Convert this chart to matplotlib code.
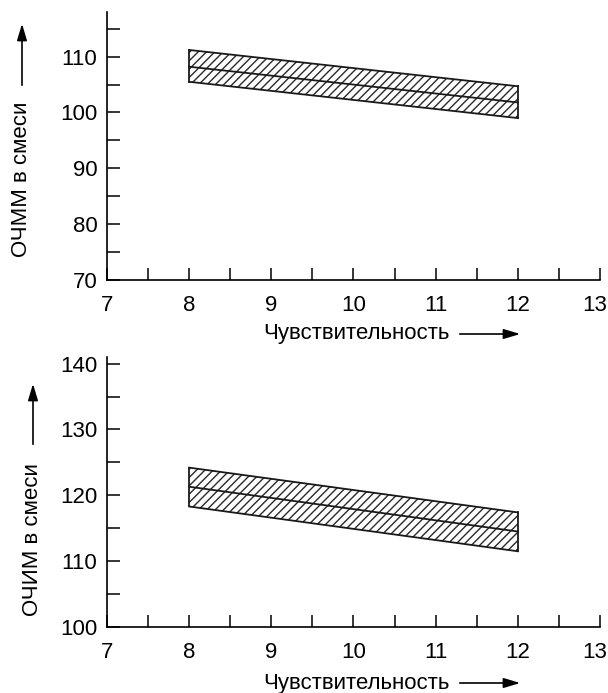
import numpy as np
import matplotlib.pyplot as plt
from matplotlib.ticker import MultipleLocator, FuncFormatter

plt.rcParams['font.family'] = ['Liberation Sans', 'DejaVu Sans']
plt.rcParams['hatch.linewidth'] = 1.0

# ── data ──────────────────────────────────────────────────────────────────────
x_ends = [8, 12]
# top panel: ОЧММ
ochmm_upper = [111.2, 104.7]
ochmm_mid = [108.2, 101.8]
ochmm_lower = [105.5, 99.0]
# bottom panel: ОЧИМ
ochim_upper = [124.2, 117.4]
ochim_mid = [121.3, 114.5]
ochim_lower = [118.3, 111.5]

xlabel = 'Чувствительность'
W, H = 608, 693
FS = 16
XMIN, XMAX = 7, 13
fig = plt.figure(figsize=(W / 100, H / 100), dpi=100)


def px_axes(left, top, right, bottom):
    return fig.add_axes([left / W, 1 - bottom / H, (right - left) / W, (bottom - top) / H])


def style(ax, ylim, ymaj, ymin):
    ax.set_xlim(XMIN, XMAX)
    ax.set_ylim(*ylim)
    ax.xaxis.set_major_locator(MultipleLocator(1))
    ax.xaxis.set_minor_locator(MultipleLocator(0.5))
    ax.yaxis.set_major_locator(MultipleLocator(ymaj))
    ax.yaxis.set_minor_locator(MultipleLocator(ymin))
    # the last x label is drawn by hand, nudged left so it stays in the picture
    ax.xaxis.set_major_formatter(FuncFormatter(
        lambda v, p: '' if abs(v - XMAX) < 1e-6 else f'{v:.0f}'))
    ax.annotate(f'{XMAX}', xy=(XMAX, ylim[0]), xytext=(-4, -11),
                textcoords='offset points', ha='center', va='top', fontsize=FS,
                annotation_clip=False)
    for s in ['top', 'right']:
        ax.spines[s].set_visible(False)
    for s in ['left', 'bottom']:
        ax.spines[s].set_linewidth(1.2)
    ax.tick_params(which='both', direction='in', length=9, width=1.1, labelsize=FS)
    ax.tick_params(axis='x', which='major', pad=11)
    ax.tick_params(axis='y', which='major', pad=7)


def band(ax, up, mid, lo):
    ax.fill_between(x_ends, lo, up, facecolor='white', edgecolor='#2a2a2a',
                    hatch='////', linewidth=0)
    for ys in (up, mid, lo):
        ax.plot(x_ends, ys, color='#1a1a1a', lw=1.3)
    ax.plot([x_ends[0]] * 2, [lo[0], up[0]], color='#1a1a1a', lw=1.3)
    ax.plot([x_ends[1]] * 2, [lo[1], up[1]], color='#1a1a1a', lw=1.3)


ax1 = px_axes(107, 12, 600, 280)
band(ax1, ochmm_upper, ochmm_mid, ochmm_lower)
style(ax1, (70, 118), 10, 5)

ax2 = px_axes(107, 357, 600, 627)
band(ax2, ochim_upper, ochim_mid, ochim_lower)
style(ax2, (100, 141), 10, 5)


def fx(p):
    return p / W


def fy(p):
    return 1 - p / H


arrow = dict(arrowstyle='-|>,head_length=1.0,head_width=0.3', color='black', lw=1.2)

# y labels with arrows
fig.text(fx(22), fy(179), 'ОЧММ в смеси', rotation=90, ha='center', va='center', fontsize=FS)
fig.add_artist(plt.Annotation('', xy=(fx(22), fy(21)), xytext=(fx(22), fy(88)),
                              xycoords='figure fraction', arrowprops=arrow))
fig.text(fx(33), fy(540), 'ОЧИМ в смеси', rotation=90, ha='center', va='center', fontsize=FS)
fig.add_artist(plt.Annotation('', xy=(fx(33), fy(381)), xytext=(fx(33), fy(447)),
                              xycoords='figure fraction', arrowprops=arrow))

# x labels with arrows
for yy in (334, 683):
    fig.text(fx(263), fy(yy), xlabel, ha='left', va='center', fontsize=FS)
    fig.add_artist(plt.Annotation('', xy=(fx(523), fy(yy)), xytext=(fx(457), fy(yy)),
                                  xycoords='figure fraction', arrowprops=arrow))

fig.savefig('out.png', dpi=100)
